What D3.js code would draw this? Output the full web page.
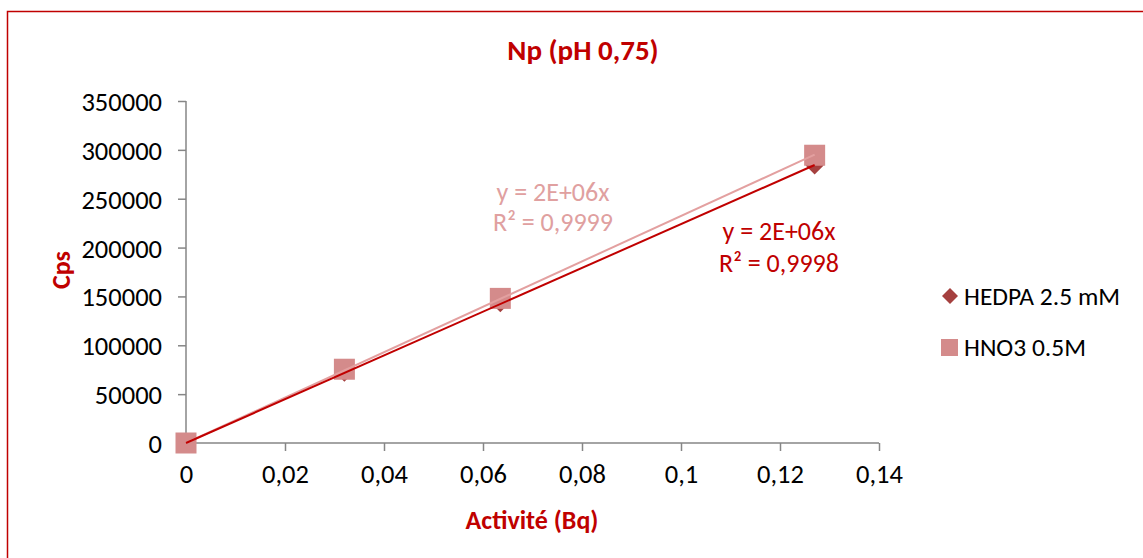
<!DOCTYPE html>
<html><head><meta charset="utf-8">
<script src="https://cdn.jsdelivr.net/npm/d3@7"></script>
<style>
body{margin:0;background:#fff;}
svg text{font-family:Carlito,Lato,"Open Sans",sans-serif;}
</style></head>
<body><svg id="c" width="1143" height="558"></svg>
<script>
const title = "Np (pH 0,75)";
const xTitle = "Activité (Bq)";
const yTitle = "Cps";
const xTicks = [0,0.02,0.04,0.06,0.08,0.1,0.12,0.14];
const yTicks = [0,50000,100000,150000,200000,250000,300000,350000];
const activity = [0, 0.032, 0.0635, 0.127];
const hedpa = [0, 72000, 143000, 284000];
const hno3 = [0, 75500, 148000, 294500];
const seriesNames = ["HEDPA 2.5 mM","HNO3 0.5M"];
const trendLabels = [["y = 2E+06x","R² = 0,9998"],["y = 2E+06x","R² = 0,9999"]];

const svg = d3.select("#c");
const red = "#C00000";
svg.append("path").attr("d","M7.5,558 V11.5 H1143").attr("fill","none").attr("stroke",red).attr("stroke-width",1.5);

const x = d3.scaleLinear().domain([0,0.14]).range([186,879]);
const y = d3.scaleLinear().domain([0,350000]).range([443,101]);
const fmtX = d => d===0 ? "0" : String(d).replace(".",",");

const gx = svg.append("g").attr("transform","translate(0,443)")
  .call(d3.axisBottom(x).tickValues(xTicks).tickFormat(fmtX).tickSize(8).tickPadding(13));
const gy = svg.append("g").attr("transform","translate(186,0)")
  .call(d3.axisLeft(y).tickValues(yTicks).tickFormat(d3.format("d")).tickSize(8).tickPadding(16));
[gx,gy].forEach(g=>{
  g.selectAll("path,line").attr("stroke","#868686").attr("stroke-width",1.5);
  g.select(".domain").attr("d", g===gx ? "M186,0H879" : "M0,443V101");
  g.selectAll("text").attr("font-size",26.5).attr("fill","#000");
});
gy.selectAll("text").attr("dy","0.36em");

svg.append("text").attr("x",583).attr("y",60).attr("text-anchor","middle")
  .attr("font-weight","bold").attr("font-size",29).attr("fill",red).text(title);
svg.append("text").attr("x",532).attr("y",529).attr("text-anchor","middle")
  .attr("font-weight","bold").attr("font-size",26).attr("fill",red).text(xTitle);
svg.append("text").attr("transform","translate(70,270) rotate(-90)").attr("text-anchor","middle")
  .attr("font-weight","bold").attr("font-size",26).attr("fill",red).text(yTitle);

const colDia = "#A5403F", colSq = "#D48B8B";
const colTrendH = "#C00000", colTrendN = "#E3A0A0";
function slope(xs, ys){ let a=0,b=0; xs.forEach((v,i)=>{a+=v*ys[i]; b+=v*v;}); return a/b; }
const xmax = d3.max(activity);
const sH = slope(activity,hedpa), sN = slope(activity,hno3);

const dia = r => `M0,${-r}L${r},0L0,${r}L${-r},0Z`;
svg.append("g").selectAll("path").data(activity).join("path")
  .attr("d",dia(9)).attr("transform",(d,i)=>`translate(${x(d)},${y(hedpa[i])})`)
  .attr("fill",colDia);
svg.append("g").selectAll("rect").data(activity).join("rect")
  .attr("x",d=>x(d)-10.5).attr("y",(d,i)=>y(hno3[i])-10.5).attr("width",21).attr("height",21)
  .attr("fill",colSq);
svg.append("line").attr("x1",x(0)).attr("y1",y(0)).attr("x2",x(xmax)).attr("y2",y(sN*xmax))
  .attr("stroke",colTrendN).attr("stroke-width",2);
svg.append("line").attr("x1",x(0)).attr("y1",y(0)).attr("x2",x(xmax)).attr("y2",y(sH*xmax))
  .attr("stroke",colTrendH).attr("stroke-width",2);

const lblN = svg.append("text").attr("text-anchor","middle").attr("font-size",26).attr("fill","#E0A0A0");
lblN.append("tspan").attr("x",553).attr("y",201).text(trendLabels[1][0]);
lblN.append("tspan").attr("x",553).attr("y",231).text(trendLabels[1][1]);
const lblH = svg.append("text").attr("text-anchor","middle").attr("font-size",26).attr("fill",colTrendH);
lblH.append("tspan").attr("x",779).attr("y",240).text(trendLabels[0][0]);
lblH.append("tspan").attr("x",779).attr("y",272).text(trendLabels[0][1]);

const lg = svg.append("g");
lg.append("path").attr("d",dia(8)).attr("transform","translate(950,296)").attr("fill",colDia);
lg.append("rect").attr("x",941).attr("y",339).attr("width",17).attr("height",17).attr("fill",colSq);
lg.append("text").attr("x",964).attr("y",305).attr("font-size",25.5).attr("fill","#000").text(seriesNames[0]);
lg.append("text").attr("x",964).attr("y",356).attr("font-size",25.5).attr("fill","#000").text(seriesNames[1]);
</script></body></html>
